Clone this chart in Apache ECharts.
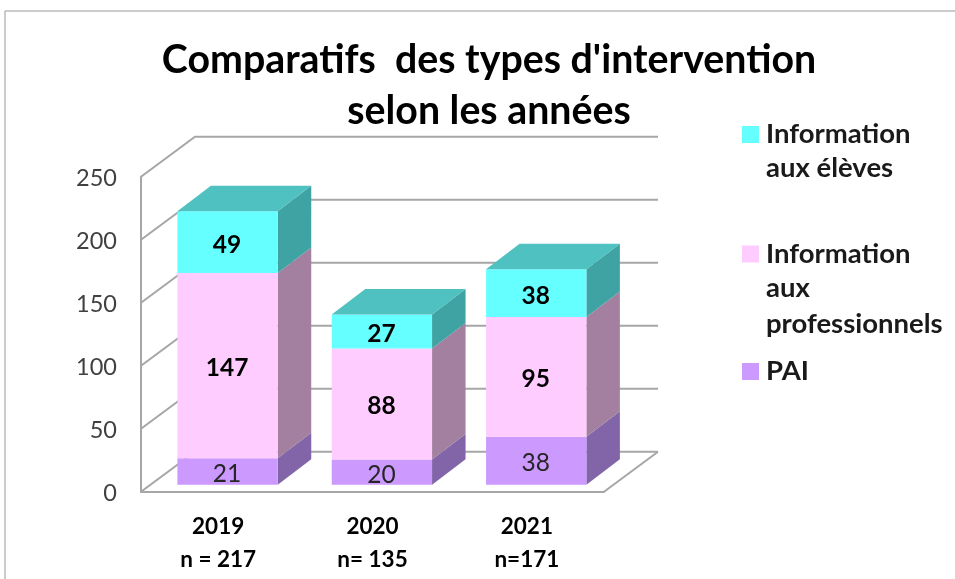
<!DOCTYPE html>
<html><head><meta charset="utf-8">
<style>html,body{margin:0;padding:0;background:#fff}#c{width:955px;height:579px}</style>
<script src="https://cdn.jsdelivr.net/npm/echarts@6/dist/echarts.min.js"></script>
</head><body><div id="c"></div>
<script>
const categories = ['2019\nn = 217', '2020\nn= 135', '2021\nn=171'];
const pai = [21, 20, 38];
const infoPro = [147, 88, 95];
const infoEleves = [49, 27, 38];
const yTicks = [0, 50, 100, 150, 200, 250];
const titleText = "Comparatifs  des types d'intervention\nselon les années";

const FONT = 'Lato';
const WALL = {dx: 54, dy: 40};      // back wall offset
const BAR = {dx: 33.5, dy: 25.5, shiftX: 9.4, shiftY: 7, widthRatio: 0.65};

const layers = [
  {name: 'PAI', values: pai, front: '#CC99FF', side: '#8265A8', top: '#8F70B8', bold: false, lines: ['PAI']},
  {name: 'Information aux professionnels', values: infoPro, front: '#FFCCFF', side: '#A3809F', top: '#C4A0C4', bold: true, lines: ['Information', 'aux', 'professionnels']},
  {name: 'Information aux élèves', values: infoEleves, front: '#66FFFF', side: '#40A3A3', top: '#4FC1C1', bold: true, lines: ['Information', 'aux élèves']}
];

function wallItem(params, api) {
  const p = api.coord([0, api.value(1)]);
  const cs = params.coordSys;
  const x0 = cs.x, x1 = cs.x + cs.width, y = p[1];
  const children = [{
    type: 'polyline',
    shape: {points: [[x0, y], [x0 + WALL.dx, y - WALL.dy], [x1 + WALL.dx, y - WALL.dy]]},
    style: {fill: null, stroke: '#a6a6a6', lineWidth: 2}
  }];
  if (api.value(1) === 0) {
    children.push({
      type: 'polyline',
      shape: {points: [[x1, y], [x1 + WALL.dx, y - WALL.dy]]},
      style: {fill: null, stroke: '#a6a6a6', lineWidth: 2}
    });
  }
  return {type: 'group', children};
}

function barRenderer(layer, isTop) {
  return function (params, api) {
    const band = api.size([1, 0])[0];
    const w = band * BAR.widthRatio;
    const c0 = api.coord([api.value(0), api.value(1)]);
    const c1 = api.coord([api.value(0), api.value(2)]);
    const x0 = c0[0] - w / 2 + BAR.shiftX, x1 = x0 + w;
    const yb = c0[1] - BAR.shiftY, yt = c1[1] - BAR.shiftY;
    const children = [
      {type: 'polygon', shape: {points: [[x1, yb], [x1 + BAR.dx, yb - BAR.dy], [x1 + BAR.dx, yt - BAR.dy], [x1, yt]]}, style: {fill: layer.side}},
      {type: 'rect', shape: {x: x0, y: yt, width: w, height: yb - yt}, style: {fill: layer.front}}
    ];
    if (isTop) {
      children.push({type: 'polygon', shape: {points: [[x0, yt], [x1, yt], [x1 + BAR.dx, yt - BAR.dy], [x0 + BAR.dx, yt - BAR.dy]]}, style: {fill: layer.top}});
    }
    children.push({
      type: 'text',
      style: {
        x: (x0 + x1) / 2 - 0.5, y: (yb + yt) / 2 + 2.5,
        text: String(api.value(3)), align: 'center', verticalAlign: 'middle',
        fontFamily: FONT, fontSize: 24.5, fontWeight: layer.bold ? 'bold' : 'normal', fill: layer.bold ? '#000' : '#262626'
      }
    });
    return {type: 'group', children};
  };
}

const cumulative = categories.map(() => 0);
const barSeries = layers.map((layer, li) => ({
  name: layer.name,
  type: 'custom',
  coordinateSystem: 'cartesian2d',
  clip: false,
  z: 3 + li,
  itemStyle: {color: layer.front},
  encode: {x: 0, y: [1, 2]},
  renderItem: barRenderer(layer, li === layers.length - 1),
  data: layer.values.map((v, i) => {
    const base = cumulative[i];
    cumulative[i] += v;
    return [i, base, base + v, v];
  })
}));

// legend: symbol aligned with the first line of each entry
const legendTop = {'Information aux élèves': 115.5, 'Information aux professionnels': 235, 'PAI': 352.5};
const legendOrder = [layers[2], layers[1], layers[0]];
const legendLineStep = 36.7;
const legendSize = 27.5;
const legends = legendOrder.map(l => ({
  data: [l.name], left: 737, top: legendTop[l.name], icon: 'rect', itemWidth: 17, itemHeight: 17, itemGap: 0, selectedMode: false,
  formatter: () => l.lines[0],
  textStyle: {fontFamily: FONT, fontSize: legendSize, fontWeight: 'bold', color: '#1a1a1a', padding: [0, 0, 0, 2]}
}));
const extraLines = [];
legendOrder.forEach(l => l.lines.slice(1).forEach((t, i) => extraLines.push({
  type: 'text', left: 766, top: legendTop[l.name] + legendLineStep * (i + 1) + 2,
  style: {text: t, fontFamily: FONT, fontSize: legendSize, fontWeight: 'bold', fill: '#1a1a1a'}
})));

const chart = echarts.init(document.getElementById('c'), null, {renderer: 'canvas'});
chart.setOption({
  animation: false,
  backgroundColor: '#fff',
  title: {
    text: titleText, left: 484, top: 30, textAlign: 'center',
    textStyle: {fontFamily: FONT, fontSize: 39.3, fontWeight: 'bold', color: '#000', lineHeight: 51}
  },
  legend: legends,
  grid: {left: 141, right: 351, top: 176.7, bottom: 87.3},
  xAxis: {
    type: 'category', data: categories,
    axisTick: {show: false},
    axisLine: {lineStyle: {color: '#a6a6a6', width: 2}},
    axisLabel: {fontFamily: FONT, fontSize: 22.5, fontWeight: 'bold', color: '#000', lineHeight: 33, margin: 19}
  },
  yAxis: {
    type: 'value', min: 0, max: 250, interval: 50,
    splitLine: {show: false},
    axisTick: {show: false},
    axisLine: {show: true, lineStyle: {color: '#a6a6a6', width: 2}},
    axisLabel: {
      fontFamily: FONT, color: '#404040', margin: 24,
      formatter: '{v|{value}}',
      rich: {v: {fontFamily: FONT, fontSize: 23.5, color: '#404040', padding: [4, 0, 0, 0]}}
    }
  },
  graphic: [
    {type: 'polyline', silent: true, shape: {points: [[5, 579], [5, 11], [955, 11]]}, style: {fill: null, stroke: '#999', lineWidth: 1}},
    ...extraLines
  ],
  series: [{
    type: 'custom', name: 'wall', clip: false, z: 1, silent: true,
    encode: {x: 0, y: 1},
    renderItem: wallItem,
    data: yTicks.map(t => [0, t])
  }, ...barSeries]
});
</script></body></html>
